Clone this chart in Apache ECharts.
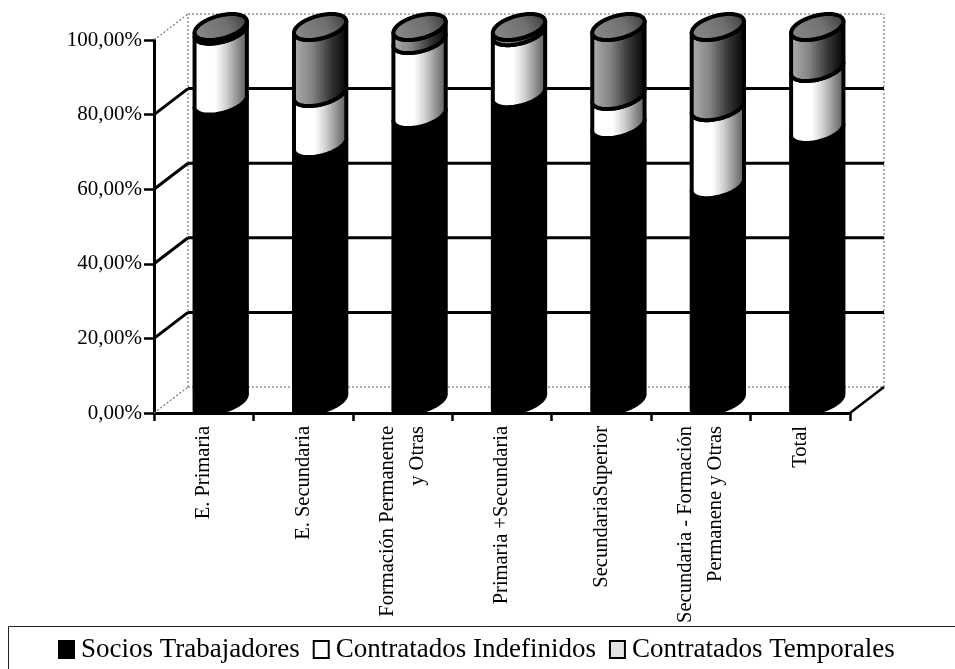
<!DOCTYPE html>
<html>
<head>
<meta charset="utf-8">
<style>html,body{margin:0;padding:0;background:#fff}#c{width:955px;height:669px}</style>
<script src="https://cdn.jsdelivr.net/npm/echarts@6/dist/echarts.min.js"></script>
</head>
<body>
<div id="c"></div>
<script>
const categories = ['E. Primaria','E. Secundaria','Formación Permanente\ny Otras','Primaria +Secundaria','SecundariaSuperior','Secundaria - Formación\nPermanene y Otras','Total'];
const seriesNames = ['Socios Trabajadores','Contratados Indefinidos','Contratados Temporales'];
const socios = [80,68.6,76.4,82,73.7,57.6,72.4];
const indefinidos = [19,13.7,20.1,16.6,7.8,20.9,16.6];
const temporales = [1,17.7,3.5,1.4,18.5,21.5,11];
const yTicks = [0,20,40,60,80,100];

const DX = 34, DY = 26;            // depth of the 3D box
const A = 23.5, VX = 11.5, B = 13; // cylinder ellipse
const T0 = Math.atan2(VX, A);
const ell = (cx, cy, t) => [cx + A*Math.cos(t) + VX*Math.sin(t), cy - B*Math.sin(t)];
function frontArc(cx, cy, reverse){
  const pts = [];
  for (let i = 0; i <= 32; i++) pts.push(ell(cx, cy, T0 - Math.PI*i/32));
  return reverse ? pts.reverse() : pts;
}
const fills = [
  '#000',
  {type:'linear',x:0,y:0,x2:1,y2:0,colorStops:[{offset:0,color:'#fff'},{offset:.4,color:'#fff'},{offset:.6,color:'#d0d0d0'},{offset:.85,color:'#808080'},{offset:1,color:'#555'}]},
  {type:'linear',x:0,y:0,x2:1,y2:0,colorStops:[{offset:0,color:'#b0b0b0'},{offset:.35,color:'#858585'},{offset:.7,color:'#333'},{offset:1,color:'#000'}]}
];
const lidFill = {type:'linear',x:0,y:1,x2:1,y2:0,colorStops:[{offset:0,color:'#8c8c8c'},{offset:.6,color:'#707070'},{offset:1,color:'#333'}]};
const legendColors = ['#000','#fff','#e4e4e4'];

function bandSeries(si, values){
  const prior = [socios, indefinidos, temporales].slice(0, si);
  const data = values.map((v,i) => {
    const base = prior.reduce((s,a)=>s+a[i],0);
    return [i, base, base+v];
  });
  return {
    type:'custom', name:seriesNames[si], z:5, clip:false, silent:true,
    itemStyle:{color:legendColors[si], borderColor:'#000', borderWidth:2},
    encode:{x:0,y:2},
    data,
    renderItem(params, api){
      const p0 = api.coord([api.value(0), api.value(1)]);
      const p1 = api.coord([api.value(0), api.value(2)]);
      const cx = p0[0] + 17;
      const low = frontArc(cx, p0[1]-B, false);
      const up = frontArc(cx, p1[1]-B, true);
      const pts = low.concat(up);
      if (si === 0) pts.splice(33, 0, [low[32][0], p0[1]-2]);
      const children = [{type:'polygon',shape:{points:pts},style:{fill:fills[si],stroke:'#000',lineWidth:4,lineJoin:'round'}}];
      if (si === 2) {
        const lid = [];
        for (let k=0;k<48;k++) lid.push(ell(cx,p1[1]-B,2*Math.PI*k/48));
        children.push({type:'polygon',shape:{points:lid},style:{fill:lidFill,stroke:'#000',lineWidth:4}});
      }
      return {type:'group',children};
    }
  };
}

const wallSeries = {
  type:'custom', z:1, clip:false, silent:true, legendHoverLink:false,
  encode:{y:0}, data:yTicks.map(v=>[v]),
  renderItem(params, api){
    const v = api.value(0);
    const cs = params.coordSys;
    const y = api.coord([0, v])[1];
    const edge = (v === 0 || v === 100);
    const st = edge ? {stroke:'#777',lineWidth:1.2,lineDash:[2,2]} : {stroke:'#000',lineWidth:3};
    const kids = [
      {type:'line',shape:{x1:cs.x,y1:y,x2:cs.x+DX,y2:y-DY},style:st},
      {type:'line',shape:{x1:cs.x+DX,y1:y-DY,x2:cs.x+cs.width+DX,y2:y-DY},style:st}
    ];
    if (v === 0) {
      const dot = {stroke:'#777',lineWidth:1.2,lineDash:[2,2]};
      kids.push({type:'line',shape:{x1:cs.x+DX,y1:y-DY,x2:cs.x+DX,y2:cs.y-DY},style:dot});
      kids.push({type:'line',shape:{x1:cs.x+cs.width+DX,y1:y-DY,x2:cs.x+cs.width+DX,y2:cs.y-DY},style:dot});
      kids.push({type:'line',shape:{x1:cs.x+cs.width,y1:y,x2:cs.x+cs.width+DX,y2:y-DY},style:{stroke:'#000',lineWidth:2.5}});
    }
    return {type:'group',children:kids};
  }
};

const FONT = '"Liberation Serif"';
const chart = echarts.init(document.getElementById('c'), null, {renderer:'canvas'});
chart.setOption({
  animation:false,
  backgroundColor:'#fff',
  grid:{left:154,right:105,top:40,bottom:256,containLabel:false},
  xAxis:{
    type:'category', data:categories,
    axisLine:{lineStyle:{color:'#000',width:3}},
    axisTick:{show:true,alignWithLabel:false,length:8,lineStyle:{color:'#000',width:2.5}},
    axisLabel:{rotate:90,interval:0,margin:13,color:'#000',fontFamily:FONT,fontSize:20.5,lineHeight:30}
  },
  yAxis:{
    type:'value', min:0, max:100, interval:20,
    splitLine:{show:false},
    axisLine:{show:true,lineStyle:{color:'#000',width:3}},
    axisTick:{show:true,length:10,lineStyle:{color:'#000',width:2.5}},
    axisLabel:{margin:12,color:'#000',fontFamily:FONT,fontSize:21,formatter:v=>v.toFixed(2).replace('.',',')+'%'}
  },
  legend:{
    show:true, data:seriesNames, left:53, top:631, icon:'rect',
    itemWidth:15, itemHeight:17, itemGap:13,
    textStyle:{color:'#000',fontFamily:FONT,fontSize:27,padding:[0,0,0,2]}
  },
  graphic:[{type:'rect',left:6,top:624,shape:{width:960,height:60},style:{fill:'none',stroke:'#222',lineWidth:1},z:0,silent:true}],
  series:[wallSeries, bandSeries(0,socios), bandSeries(1,indefinidos), bandSeries(2,temporales)]
});
</script>
</body>
</html>
